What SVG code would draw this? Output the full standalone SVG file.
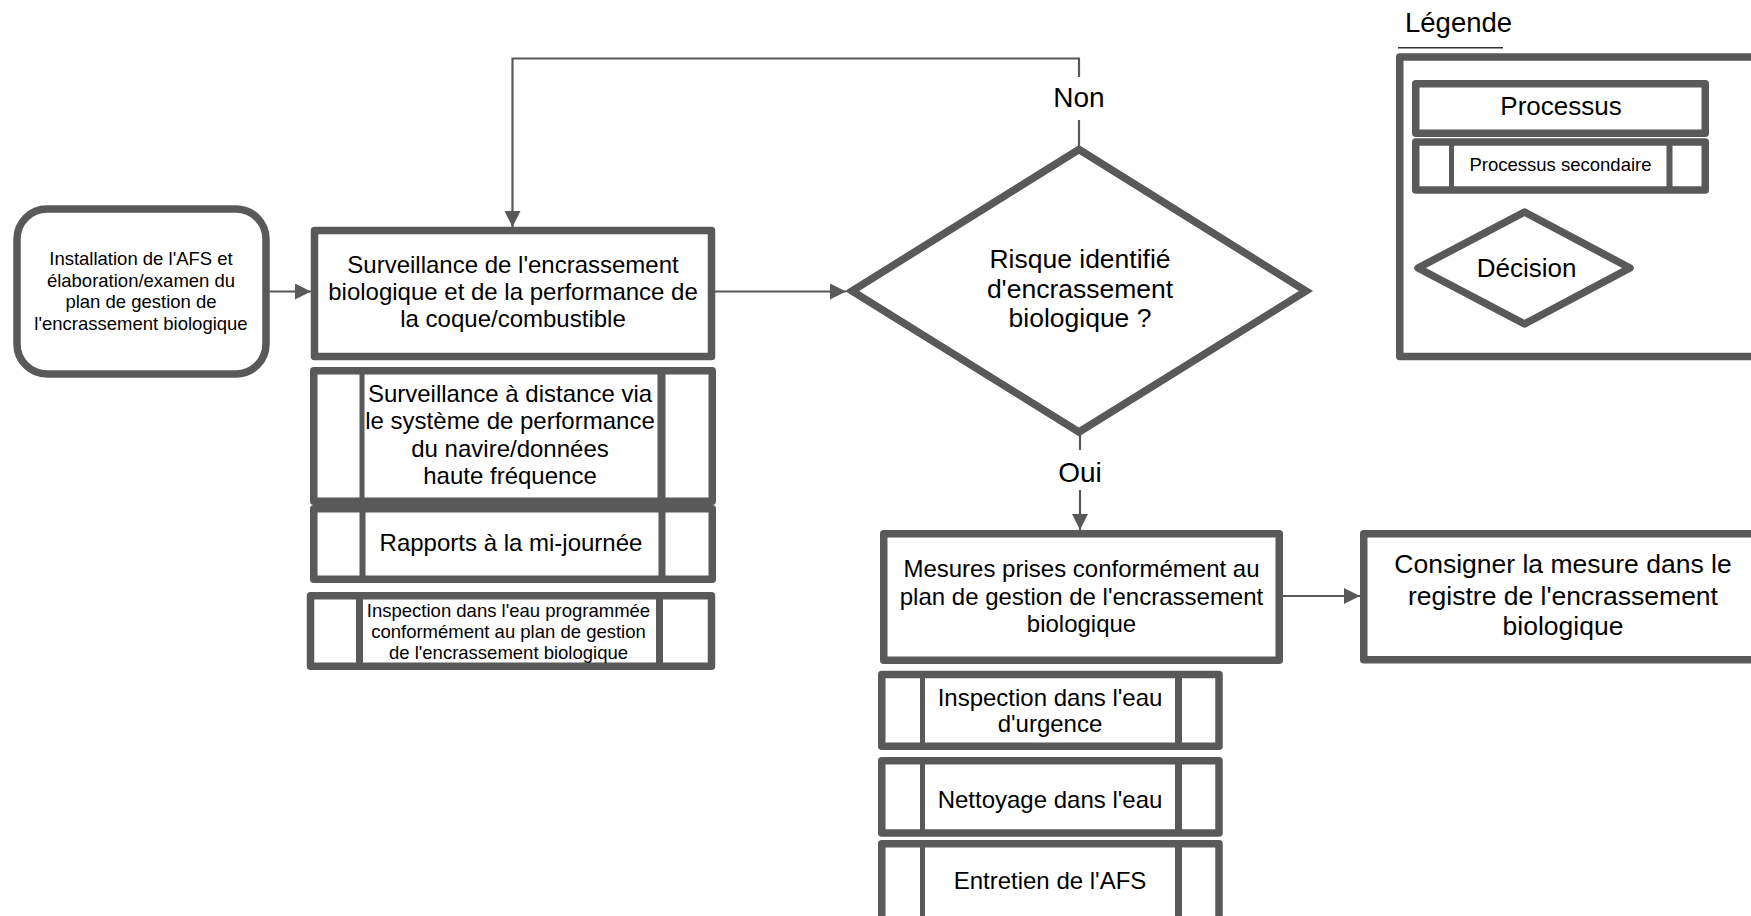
<svg xmlns="http://www.w3.org/2000/svg" width="1751" height="916" viewBox="0 0 1751 916">
<style>
  text { font-family: "Liberation Sans", Arial, sans-serif; fill: #000; text-anchor: middle; }
  text.start { text-anchor: start; }
  .box { fill: #fff; stroke: #595959; stroke-width: 7.5; stroke-linejoin: round; }
  .dia { fill: #fff; stroke: #595959; stroke-width: 7.5; stroke-linejoin: miter; stroke-miterlimit: 10; }
  .div { stroke: #595959; }
  .conn { fill: none; stroke: #595959; stroke-width: 2.2; }
  .f24 { font-size: 24px; }
  .f185 { font-size: 18.5px; }
  .f26 { font-size: 26.5px; }
  .f28 { font-size: 28px; }
</style>
<defs>
  <marker id="arrow" viewBox="0 0 16 16" refX="16" refY="8" markerWidth="16" markerHeight="16" markerUnits="userSpaceOnUse" orient="auto">
    <path d="M0,0 L16,8 L0,16 z" fill="#595959"/>
  </marker>
</defs>
<rect width="1751" height="916" fill="#fff"/>

<g id="connectors">
  <path class="conn" d="M269 291.5 H311" marker-end="url(#arrow)"/>
  <path class="conn" d="M715 291.5 H846" marker-end="url(#arrow)"/>
  <path class="conn" d="M1079 146 V120"/>
  <path class="conn" d="M1079 77 V58.5 H512.5 V227" marker-end="url(#arrow)"/>
  <path class="conn" d="M1080 434 V450"/>
  <path class="conn" d="M1080 490 V530" marker-end="url(#arrow)"/>
  <path class="conn" d="M1283 596 H1360" marker-end="url(#arrow)"/>
  <text class="f28" x="1079" y="106.7">Non</text>
  <text class="f28" x="1080" y="481.7">Oui</text>
</g>

<g id="installation">
  <rect class="box" x="17" y="209" width="249" height="165" rx="30" stroke-width="8"/>
  <text class="f185" x="141" y="265">Installation de l'AFS et</text>
  <text class="f185" x="141" y="286.5">élaboration/examen du</text>
  <text class="f185" x="141" y="308">plan de gestion de</text>
  <text class="f185" x="141" y="329.5">l'encrassement biologique</text>
</g>

<g id="surveillance">
  <rect class="box" x="314.5" y="230.5" width="397" height="126"/>
  <text class="f24" x="513" y="272.7">Surveillance de l'encrassement</text>
  <text class="f24" x="513" y="300">biologique et de la performance de</text>
  <text class="f24" x="513" y="327.3">la coque/combustible</text>
</g>

<g id="sub-distance">
  <rect class="box" x="313.75" y="370.75" width="398.5" height="130.5"/>
  <line class="div" x1="362" y1="371" x2="362" y2="501" stroke-width="5"/>
  <line class="div" x1="661.5" y1="371" x2="661.5" y2="501" stroke-width="8"/>
  <text class="f24" x="510" y="401.7">Surveillance à distance via</text>
  <text class="f24" x="510" y="429.2">le système de performance</text>
  <text class="f24" x="510" y="456.7">du navire/données</text>
  <text class="f24" x="510" y="484.2">haute fréquence</text>
</g>

<g id="sub-rapports">
  <rect class="box" x="313.75" y="508.75" width="398.5" height="70.5"/>
  <line class="div" x1="362.5" y1="509" x2="362.5" y2="579" stroke-width="6"/>
  <line class="div" x1="662" y1="509" x2="662" y2="579" stroke-width="7"/>
  <text class="f24" x="511" y="550.7">Rapports à la mi-journée</text>
</g>

<g id="sub-inspection-prog">
  <rect class="box" x="310.5" y="595.75" width="401" height="70.5"/>
  <line class="div" x1="359.5" y1="596" x2="359.5" y2="666" stroke-width="7"/>
  <line class="div" x1="659.5" y1="596" x2="659.5" y2="666" stroke-width="7"/>
  <text class="f185" x="508.5" y="617.3">Inspection dans l'eau programmée</text>
  <text class="f185" x="508.5" y="638">conformément au plan de gestion</text>
  <text class="f185" x="508.5" y="658.5">de l'encrassement biologique</text>
</g>

<g id="decision">
  <polygon class="dia" points="1079,149.5 1306,291 1079,432 852,291"/>
  <text class="f26" x="1080" y="267.7">Risque identifié</text>
  <text class="f26" x="1080" y="298">d'encrassement</text>
  <text class="f26" x="1080" y="327.3">biologique ?</text>
</g>

<g id="mesures">
  <rect class="box" x="883.75" y="533.75" width="395.5" height="126.5"/>
  <text class="f24" x="1081.5" y="576.7">Mesures prises conformément au</text>
  <text class="f24" x="1081.5" y="604.5">plan de gestion de l'encrassement</text>
  <text class="f24" x="1081.5" y="631.7">biologique</text>
</g>

<g id="consigner">
  <rect class="box" x="1363.75" y="533.75" width="420" height="126"/>
  <text class="f26" x="1563" y="573.3">Consigner la mesure dans le</text>
  <text class="f26" x="1563" y="604.5">registre de l'encrassement</text>
  <text class="f26" x="1563" y="635">biologique</text>
</g>

<g id="sub-inspection-urgence">
  <rect class="box" x="881.75" y="674.5" width="337.25" height="71.75"/>
  <line class="div" x1="922.5" y1="675" x2="922.5" y2="746" stroke-width="5"/>
  <line class="div" x1="1178.5" y1="675" x2="1178.5" y2="746" stroke-width="7"/>
  <text class="f24" x="1050" y="705.5">Inspection dans l'eau</text>
  <text class="f24" x="1050" y="732">d'urgence</text>
</g>

<g id="sub-nettoyage">
  <rect class="box" x="881.75" y="760.75" width="337.25" height="72.25"/>
  <line class="div" x1="922.5" y1="761" x2="922.5" y2="833" stroke-width="5"/>
  <line class="div" x1="1178.5" y1="761" x2="1178.5" y2="833" stroke-width="7"/>
  <text class="f24" x="1050" y="808">Nettoyage dans l'eau</text>
</g>

<g id="sub-entretien">
  <rect class="box" x="881.75" y="843.75" width="337.25" height="90"/>
  <line class="div" x1="922.5" y1="844" x2="922.5" y2="930" stroke-width="5"/>
  <line class="div" x1="1178.5" y1="844" x2="1178.5" y2="930" stroke-width="7"/>
  <text class="f24" x="1050" y="889">Entretien de l'AFS</text>
</g>

<g id="legende">
  <text class="start" x="1405" y="32.3" font-size="27.5">Légende</text>
  <line x1="1398" y1="47.7" x2="1503" y2="47.7" stroke="#333" stroke-width="1.5"/>
  <rect class="box" x="1399.75" y="57" width="420" height="299.5"/>
  <g id="legend-processus">
    <rect class="box" x="1415.75" y="83.75" width="289.5" height="49.5" stroke-width="6"/>
    <text x="1561" y="115" font-size="26px">Processus</text>
  </g>
  <g id="legend-secondaire">
    <rect class="box" x="1415.75" y="142" width="289.5" height="48" stroke-width="6"/>
    <line class="div" x1="1451.5" y1="142" x2="1451.5" y2="190" stroke-width="5"/>
    <line class="div" x1="1669.5" y1="142" x2="1669.5" y2="190" stroke-width="6"/>
    <text class="f185" x="1560.5" y="170.7">Processus secondaire</text>
  </g>
  <g id="legend-decision">
    <polygon class="box" points="1524.5,212 1630,268 1524.5,324 1418,268" stroke-width="7"/>
    <text x="1526.7" y="277.3" font-size="26px">Décision</text>
  </g>
</g>
</svg>
